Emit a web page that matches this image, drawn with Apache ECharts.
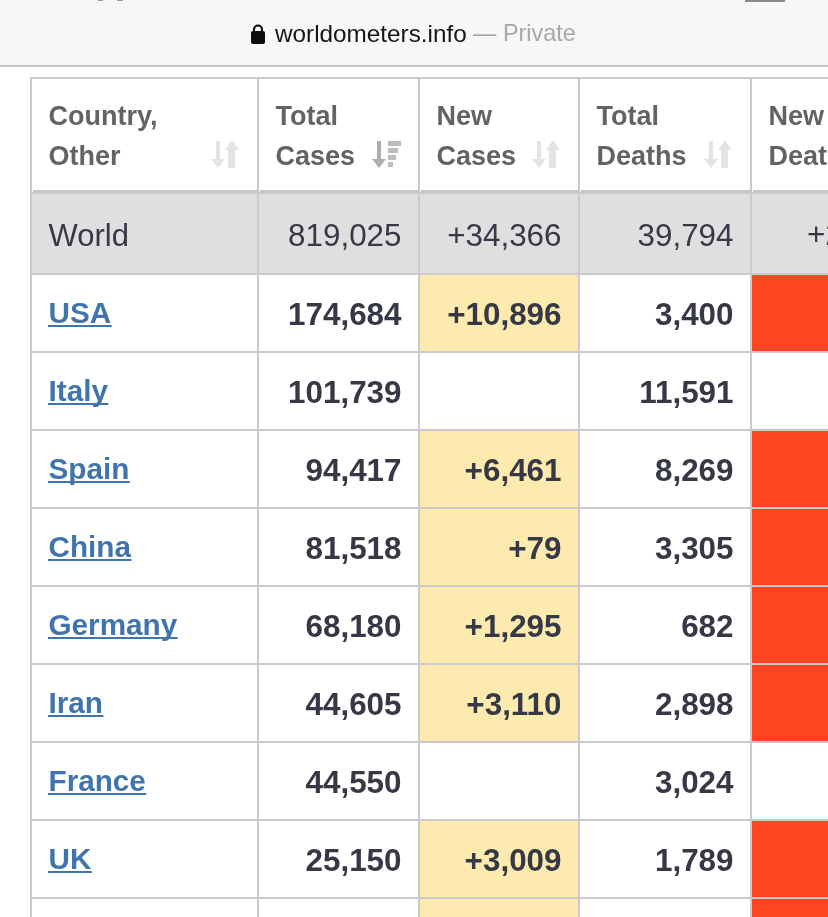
<!DOCTYPE html>
<html>
<head>
<meta charset="utf-8">
<style>html,body{margin:0;padding:0;background:#fff}#main{width:828px;height:917px}</style>
<script src="https://cdn.jsdelivr.net/npm/echarts@6/dist/echarts.min.js"></script>
</head>
<body>
<div id="main"></div>
<script>
// table content
const headers = [['Country,', 'Other'], ['Total', 'Cases'], ['New', 'Cases'], ['Total', 'Deaths'], ['New', 'Deaths']];
const countries = ['World', 'USA', 'Italy', 'Spain', 'China', 'Germany', 'Iran', 'France', 'UK', ''];
const totalCases = ['819,025', '174,684', '101,739', '94,417', '81,518', '68,180', '44,605', '44,550', '25,150', ''];
const newCases = ['+34,366', '+10,896', '', '+6,461', '+79', '+1,295', '+3,110', '', '+3,009', ''];
const totalDeaths = ['39,794', '3,400', '11,591', '8,269', '3,305', '682', '2,898', '3,024', '1,789', ''];
// only the start of the world figure is on screen
const newDeaths = ['+2', '', '', '', '', '', '', '', '', ''];
const newCasesFlag = [0, 1, 0, 1, 1, 1, 1, 0, 1, 1];
const newDeathsFlag = [0, 1, 0, 1, 1, 1, 1, 0, 1, 1];

// layout of the table, the axes run in screen pixels
const colEdges = [31, 258, 419, 579, 751, 930];
const headTop = 78;
const headBottom = 193;
const rowEdges = [193, 274, 352, 430, 508, 586, 664, 742, 820, 898, 976];
const padX = 17;

const FONT = '"Liberation Sans", Arial, sans-serif';
const GRID = '#cacace';
const INK = '#363945';
const HEAD = '#636363';
const LINK = '#3f74ad';

const measure = document.createElement('canvas').getContext('2d');
function textWidth(text, font) {
  measure.font = font;
  return measure.measureText(text).width;
}

const cells = [];
headers.forEach(function (h, c) { cells.push([c, -1]); });
countries.forEach(function (n, r) {
  for (let c = 0; c < headers.length; c++) cells.push([c, r]);
});

function polygon(points, fill) {
  return { type: 'polygon', shape: { points: points }, style: { fill: fill } };
}

// sort icon: thin arrow down, wide arrow up, or arrow + bars when sorted
function sortIcon(right, sorted) {
  const out = [];
  const dx = right - 40;
  const downColor = sorted ? '#aeaeae' : '#e4e4e4';
  out.push(polygon([[dx - 2, 141], [dx + 2, 141], [dx + 2, 159], [dx + 7, 159], [dx, 168], [dx - 7, 159], [dx - 2, 159]], downColor));
  if (sorted) {
    [[141, 13], [148, 10], [155, 8], [162, 5]].forEach(function (b) {
      out.push({ type: 'rect', shape: { x: right - 31, y: b[0], width: b[1], height: 5 }, style: { fill: '#bdbdbd' } });
    });
  } else {
    const ux = right - 26;
    out.push(polygon([[ux, 140], [ux + 7, 150], [ux + 3, 150], [ux + 3, 168], [ux - 4, 168], [ux - 4, 150], [ux - 7, 150]], '#e4e4e4'));
  }
  return out;
}

function renderCell(params, api) {
  const c = api.value(0);
  const r = api.value(1);
  const isHead = r < 0;
  const top = isHead ? headTop : rowEdges[r];
  const bottom = isHead ? headBottom : rowEdges[r + 1];
  const p0 = api.coord([colEdges[c], top]);
  const p1 = api.coord([colEdges[c + 1], bottom]);
  const left = p0[0], right = p1[0], y0 = p0[1], y1 = p1[1];
  const mid = (y0 + y1) / 2;

  let fill = '#ffffff';
  if (r === 0) fill = '#dfdfdf';
  else if (!isHead && c === 2 && newCasesFlag[r]) fill = '#fdeaae';
  else if (!isHead && c === 4 && newDeathsFlag[r]) fill = '#ff4520';

  const kids = [{
    type: 'rect',
    shape: { x: left, y: y0, width: right - left, height: y1 - y0 },
    style: { fill: fill, stroke: GRID, lineWidth: 2 }
  }];

  if (isHead) {
    const font = 'bold 27px ' + FONT;
    kids.push({ type: 'text', style: { x: left + padX + 0.5, y: 118, text: headers[c][0], font: font, fill: HEAD, align: 'left', verticalAlign: 'middle' } });
    kids.push({ type: 'text', style: { x: left + padX + 0.5, y: 158, text: headers[c][1], font: font, fill: HEAD, align: 'left', verticalAlign: 'middle' } });
    if (c < 4) sortIcon(right, c === 1).forEach(function (k) { kids.push(k); });
    // shadow under the header
    kids.push({ type: 'rect', shape: { x: left + 2, y: y1 - 3, width: right - left - 3, height: 4 }, style: { fill: '#c6c6c6' } });
    kids.push({ type: 'rect', shape: { x: left + 2, y: y1 + 1, width: right - left - 3, height: 2 }, style: { fill: '#8d8d8d' } });
    return { type: 'group', children: kids };
  }

  const weight = r === 0 ? 'normal' : 'bold';
  if (c === 0) {
    const name = countries[r];
    const font = weight + ' ' + (r === 0 ? 31 : 29.7) + 'px ' + FONT;
    kids.push({ type: 'text', style: { x: left + padX + 0.5, y: mid + (r === 0 ? 4 : 2), text: name, font: font, fill: r === 0 ? INK : LINK, align: 'left', verticalAlign: 'middle' } });
    if (r > 0 && name) {
      kids.push({ type: 'rect', shape: { x: left + padX, y: mid + 12, width: textWidth(name, font) + 1, height: 2 }, style: { fill: LINK } });
    }
  } else {
    const font = weight + ' 31.4px ' + FONT;
    const value = [null, totalCases, newCases, totalDeaths, newDeaths][c][r];
    if (c === 4) {
      kids.push({ type: 'text', style: { x: left + 56, y: mid + 3, text: value, font: font, fill: INK, align: 'left', verticalAlign: 'middle' } });
    } else {
      kids.push({ type: 'text', style: { x: right - padX - 0.5, y: mid + 3.5, text: value, font: font, fill: INK, align: 'right', verticalAlign: 'middle' } });
    }
  }
  return { type: 'group', children: kids };
}

const myChart = echarts.init(document.getElementById('main'));
myChart.setOption({
  animation: false,
  backgroundColor: '#ffffff',
  grid: { left: 0, right: 0, top: 0, bottom: 0 },
  xAxis: { type: 'value', min: 0, max: 828, show: false },
  yAxis: { type: 'value', min: 0, max: 917, inverse: true, show: false },
  // browser address bar above the table
  graphic: [
    { type: 'rect', z: 1, shape: { x: 0, y: 0, width: 828, height: 66 }, style: { fill: '#f7f7f8' } },
    { type: 'rect', z: 1, shape: { x: 0, y: 65, width: 828, height: 2 }, style: { fill: '#c4c4c4' } },
    { type: 'rect', z: 1, shape: { x: 98, y: 0, width: 5, height: 1 }, style: { fill: '#9a9a9a' } },
    { type: 'rect', z: 1, shape: { x: 117, y: 0, width: 6, height: 1 }, style: { fill: '#9a9a9a' } },
    { type: 'rect', z: 1, shape: { x: 745, y: 0, width: 40, height: 2 }, style: { fill: '#8c8c8c' } },
    { type: 'rect', z: 2, shape: { x: 251, y: 31, width: 14, height: 13, r: 2 }, style: { fill: '#0c0c0c' } },
    { type: 'rect', z: 2, shape: { x: 253, y: 29, width: 2, height: 3 }, style: { fill: '#0c0c0c' } },
    { type: 'rect', z: 2, shape: { x: 261, y: 29, width: 2, height: 3 }, style: { fill: '#0c0c0c' } },
    { type: 'arc', z: 2, shape: { cx: 258, cy: 29.5, r: 4, startAngle: Math.PI, endAngle: 0 }, style: { stroke: '#0c0c0c', lineWidth: 2.2, fill: 'none' } },
    { type: 'text', z: 2, style: { x: 275, y: 35, text: 'worldometers.info', font: '24.3px ' + FONT, fill: '#161616', textAlign: 'left', textVerticalAlign: 'middle' } },
    { type: 'text', z: 2, style: { x: 473, y: 35, text: '— Private', font: '23.4px ' + FONT, fill: '#a8a8a8', textAlign: 'left', textVerticalAlign: 'middle' } }
  ],
  series: [{
    type: 'custom',
    coordinateSystem: 'cartesian2d',
    renderItem: renderCell,
    clip: false,
    silent: true,
    encode: { x: 0, y: 1 },
    data: cells
  }]
});
</script>
</body>
</html>
